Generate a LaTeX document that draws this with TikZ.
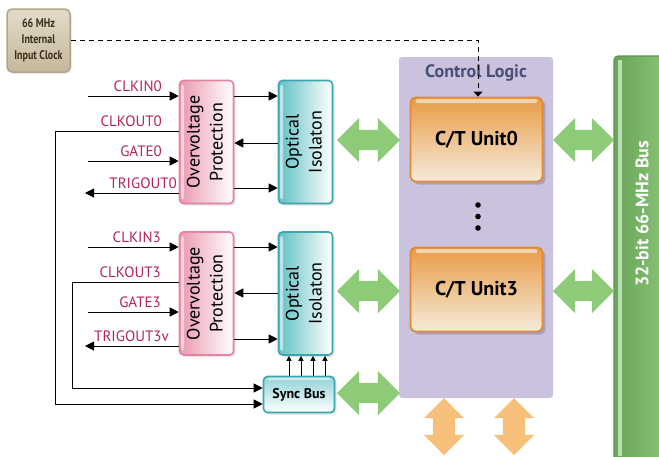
\documentclass[tikz,border=0pt]{standalone}
\usepackage{fontspec}
\setmainfont{PT Sans}
\newfontfamily\narrowfont{PT Sans}[FakeStretch=0.8]
\usetikzlibrary{arrows.meta}
\usetikzlibrary{calc}
\usetikzlibrary{positioning}
\usetikzlibrary{shapes.arrows}
\usetikzlibrary{shadows}

\definecolor{sigred}{HTML}{B3235C}
\definecolor{ovline}{HTML}{E4849F}
\definecolor{ovpink}{HTML}{EA98B0}
\definecolor{optline}{HTML}{3BA7AE}
\definecolor{optteal}{HTML}{62C0C4}
\definecolor{clktop}{HTML}{E2DBC9}
\definecolor{clkbot}{HTML}{C5B99B}
\definecolor{clkline}{HTML}{B3A685}
\definecolor{clktext}{HTML}{3A2D1C}
\definecolor{ctlfill}{HTML}{CBC3DE}
\definecolor{ctltext}{HTML}{4A4F78}
\definecolor{unitline}{HTML}{E38A30}
\definecolor{unittop}{HTML}{E99B45}
\definecolor{unitbot}{HTML}{F5EBDB}
\definecolor{unitshade}{HTML}{8C7DA8}
\definecolor{arrgreen}{HTML}{8DCB78}
\definecolor{arrorange}{HTML}{F6C07B}
\definecolor{busdark}{HTML}{6AA35A}
\definecolor{buslight}{HTML}{8ECA7B}
\definecolor{busline}{HTML}{5E9450}

\begin{document}
\begin{tikzpicture}[x=1pt,y=-1pt,>/.tip={Triangle[length=9pt,width=9pt]},
	sig/.style={text=sigred,font=\fontsize{15}{17}\selectfont,inner sep=0pt,anchor=base east},
	clkbox/.style={draw=clkline,line width=1.5pt,rounded corners=5pt,top color=clktop,bottom color=clkbot,minimum width=63pt,minimum height=63pt,inner sep=0pt,text=clktext,font=\narrowfont\bfseries\fontsize{12.5}{16}\selectfont,align=center,drop shadow={fill=black!25,shadow xshift=1.5pt,shadow yshift=-1.5pt}},
	ovbox/.style={draw=ovline,line width=1.6pt,rounded corners=4pt,left color=ovpink,right color=white,minimum width=54pt,minimum height=123pt,inner sep=0pt,drop shadow={fill=black!22,shadow xshift=2pt,shadow yshift=-2pt}},
	optbox/.style={draw=optline,line width=1.6pt,rounded corners=4pt,left color=optteal,right color=white,minimum width=54pt,minimum height=123pt,inner sep=0pt,drop shadow={fill=black!22,shadow xshift=2pt,shadow yshift=-2pt}},
	syncbox/.style={draw=optline,line width=1.6pt,rounded corners=4pt,top color=optteal!70,bottom color=white,minimum width=71pt,minimum height=36pt,inner sep=0pt,font=\bfseries\fontsize{14}{16}\selectfont,drop shadow={fill=black!22,shadow xshift=2pt,shadow yshift=-2pt}},
	unitbox/.style={draw=unitline,line width=1.8pt,rounded corners=5pt,top color=unittop,bottom color=unitbot,minimum width=132pt,minimum height=84pt,inner sep=0pt,font=\bfseries\fontsize{20}{24}\selectfont,drop shadow={fill=unitshade,shadow xshift=3pt,shadow yshift=-3pt}},
	gloss/.style={fill=white,fill opacity=0.55,rounded corners=2pt},
	garrow/.style={double arrow,double arrow tip angle=90,double arrow head extend=12pt,fill=arrgreen,minimum width=44pt,minimum height=63pt,inner sep=10pt},
	oarrow/.style={double arrow,double arrow tip angle=90,double arrow head extend=9pt,fill=arrorange,minimum width=40pt,minimum height=57pt,inner sep=11pt,shape border rotate=90},
	small/.tip={Triangle[length=5pt,width=5pt]},
	wire/.style={line width=1pt}
]
\useasboundingbox (0,0) rectangle (659,456);

% control logic and bus
\draw (476,227.5) node (ctl) [fill=ctlfill,rounded corners=3pt,minimum width=154pt,minimum height=341pt] {};
\node (ctltitle) [text=ctltext,font=\bfseries\fontsize{18}{20}\selectfont] at (476,73) {Control Logic};
\draw (645,262) node (bus) [draw=busline,line width=1.2pt,rounded corners=4pt,left color=busdark,right color=buslight,minimum width=62pt,minimum height=412pt] {};
\fill[buslight!60!white] (618,60) rectangle (622,456);
\node (bustitle) [rotate=90,text=white,font=\bfseries\fontsize{18}{20}\selectfont] at (642,214) {32-bit 66-MHz Bus};

% boxes
\draw (38.5,40.5) node (clk) [clkbox] {66 MHz\\Internal\\Input Clock};
\draw (206.5,142) node (ov0) [ovbox] {\rotatebox{90}{\fontsize{18}{23}\selectfont\begin{tabular}{@{}c@{}}Overvoltage\\Protection\end{tabular}}};
\draw (305.5,142) node (opt0) [optbox] {\rotatebox{90}{\fontsize{18}{23}\selectfont\begin{tabular}{@{}c@{}}Optical\\Isolaton\end{tabular}}};
\draw (206.5,293.5) node (ov3) [ovbox] {\rotatebox{90}{\fontsize{18}{23}\selectfont\begin{tabular}{@{}c@{}}Overvoltage\\Protection\end{tabular}}};
\draw (305.5,293.5) node (opt3) [optbox] {\rotatebox{90}{\fontsize{18}{23}\selectfont\begin{tabular}{@{}c@{}}Optical\\Isolaton\end{tabular}}};
\draw (299,394.5) node (sync) [syncbox] {Sync Bus};
\draw (476.5,139.5) node (u0) [unitbox] {C/T Unit0};
\draw (476.5,289.5) node (u3) [unitbox] {C/T Unit3};
\foreach \y in {205,216.5,228} \fill (478,\y) circle (2.8);

% highlights
\foreach \b in {ov0,opt0,ov3,opt3}
	\fill[gloss] ([xshift=2.5pt,yshift=-5pt]\b.north west) rectangle ([xshift=5.5pt,yshift=5pt]\b.south west);
\foreach \b in {u0,u3}
	\fill[gloss] ([xshift=6pt,yshift=-2.5pt]\b.north west) rectangle ([xshift=-6pt,yshift=-6.5pt]\b.north east);
\fill[gloss] ([xshift=5pt,yshift=-2pt]sync.north west) rectangle ([xshift=-5pt,yshift=-4.5pt]sync.north east);

% wide arrows
\node (g0) [garrow] at (368.5,140) {};
\node (g3) [garrow] at (368.5,291) {};
\node (gs) [garrow] at (368.5,393) {};
\node (h0) [garrow,minimum height=61pt] at (583.5,140) {};
\node (h3) [garrow,minimum height=61pt] at (583.5,291) {};
\node (k1) [oarrow] at (444,426.5) {};
\node (k2) [oarrow] at (514,426.5) {};

% clock line
\draw[dashed,dash pattern=on 5pt off 4pt,line width=0.9pt,-{Triangle[length=5pt,width=9pt]}] (clk.east) -| ([xshift=1.5pt]u0.north);

% channel 0
\coordinate (in0) at (88,96);
\coordinate (out0) at (55,131);
\coordinate (gate0) at (88,161);
\coordinate (trig0) at (85,193);
\draw[wire,->] (in0) -- (ov0.west |- in0);
\draw[wire,->] (ov0.west |- out0) -- (out0) |- (sync.west |- 0,404);
\draw[wire,->] (gate0) -- (ov0.west |- gate0);
\draw[wire,->] (ov0.west |- trig0) -- (trig0);
\node (lin0) [sig] at (162,91) {CLKIN0};
\node (lout0) [sig] at (162,126) {CLKOUT0};
\node (lgate0) [sig] at (162,156) {GATE0};
\node (ltrig0) [sig] at (177,188) {TRIGOUT0};
\draw[wire,->] (ov0.east |- in0) -- (opt0.west |- in0);
\draw[wire,<-] (ov0.east |- 0,143) -- (opt0.west |- 0,143);
\draw[wire,->] (ov0.east |- 0,188) -- (opt0.west |- 0,188);

% channel 3
\coordinate (in3) at (88,247);
\coordinate (out3) at (72,282);
\coordinate (gate3) at (88,312);
\coordinate (trig3) at (85,346);
\draw[wire,->] (in3) -- (ov3.west |- in3);
\draw[wire,->] (ov3.west |- out3) -- (out3) |- (sync.west |- 0,388);
\draw[wire,->] (gate3) -- (ov3.west |- gate3);
\draw[wire,->] (ov3.west |- trig3) -- (trig3);
\node (lin3) [sig] at (161,242) {CLKIN3};
\node (lout3) [sig] at (161,277) {CLKOUT3};
\node (lgate3) [sig] at (161,307) {GATE3};
\node (ltrig3) [sig] at (169,341) {TRIGOUT3v};
\draw[wire,->] (ov3.east |- in3) -- (opt3.west |- in3);
\draw[wire,<-] (ov3.east |- 0,293) -- (opt3.west |- 0,293);
\draw[wire,->] (ov3.east |- 0,339) -- (opt3.west |- 0,339);
\foreach \x in {289,301,313,325}
	\draw[wire,-small] (sync.north -| \x,0) -- (opt3.south -| \x,0);
\end{tikzpicture}
\end{document}
